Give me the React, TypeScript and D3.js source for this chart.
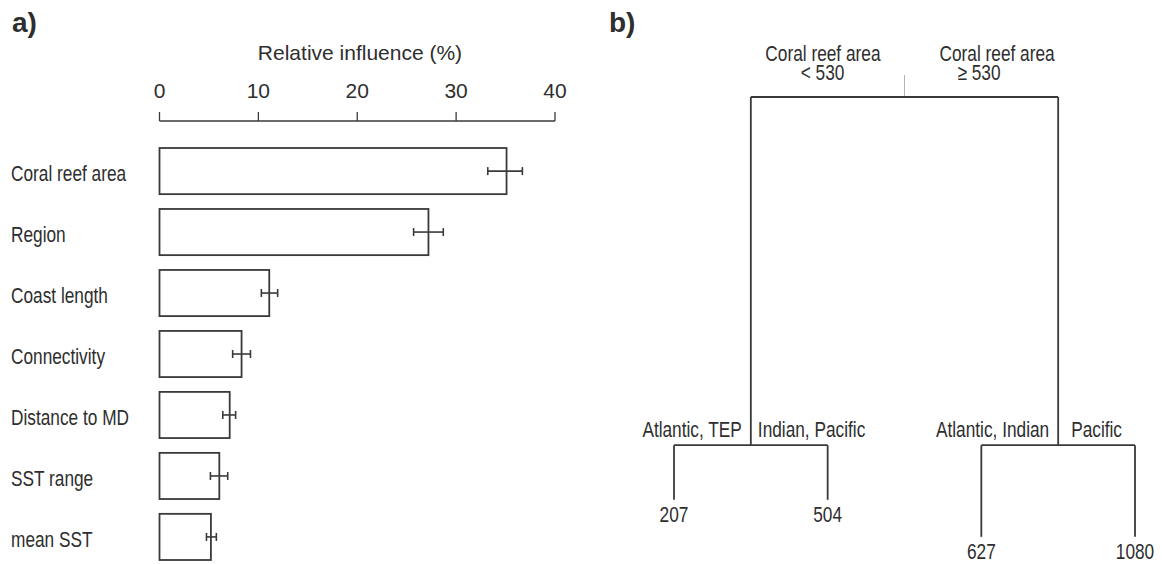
import React from 'react';
import * as d3 from 'd3';

// panel a: relative influence of predictors
const predictors = ['Coral reef area', 'Region', 'Coast length', 'Connectivity', 'Distance to MD', 'SST range', 'mean SST'];
const influence = [35.1, 27.2, 11.1, 8.3, 7.1, 6.05, 5.2];
const errLow = [33.2, 25.7, 10.3, 7.4, 6.4, 5.15, 4.75];
const errHigh = [36.7, 28.7, 11.95, 9.2, 7.7, 6.9, 5.75];
const xTicks = [0, 10, 20, 30, 40];

// panel b: regression tree (node heights ~ deviance, 0..1)
const rootSplit = ['Coral reef area', '< 530', 'Coral reef area', '\u2265 530'];
const innerLeftLabels = ['Atlantic, TEP', 'Atlantic, Indian'];
const innerRightLabels = ['Indian, Pacific', 'Pacific'];
const innerHeights = [0.248, 0.248];
const leafLabels = ['207', '504', '627', '1080'];
const leafHeights = [0.13, 0.13, 0.05, 0.05];
const rootHeight = 1;

const INK = '#3a3a3a';
const TXT = '#2e2e2e';
const SANS = "'Liberation Sans', Arial, sans-serif";
// no narrow face installed -> squeeze the regular one
const SQUEEZE = 0.785;

type TNode = { name: string; h: number; left?: string; right?: string; children?: TNode[] };

const treeData: TNode = {
    name: 'root', h: rootHeight,
    children: [0, 1].map((i) => ({
        name: 'inner' + i,
        h: innerHeights[i],
        left: innerLeftLabels[i],
        right: innerRightLabels[i],
        children: [0, 1].map((j) => ({ name: leafLabels[i * 2 + j], h: leafHeights[i * 2 + j] })),
    })),
};

const NText: React.FC<{ x: number; y: number; anchor?: string; children: React.ReactNode }> = ({ x, y, anchor = 'start', children }) => (
    <text transform={`translate(${x},${y}) scale(${SQUEEZE},1)`} textAnchor={anchor}
          fontFamily={SANS} fontSize={22} fill={TXT}>{children}</text>
);

const BarPanel: React.FC = () => {
    const x = d3.scaleLinear().domain([0, 40]).range([159.5, 555]);
    const y = d3.scaleBand().domain(predictors).range([148, 560]).paddingInner(0.243).paddingOuter(0);
    const axisY = 121;
    return (
        <g>
            <text x={12} y={32} fontFamily={SANS} fontWeight="bold" fontSize={28} fill={TXT}>a)</text>
            <text x={360} y={60} textAnchor="middle" fontFamily={SANS} fontSize={21} fill={TXT}>Relative influence (%)</text>
            <line x1={x(0)} x2={x(40)} y1={axisY} y2={axisY} stroke={INK} strokeWidth={1.3} />
            {xTicks.map((t) => (
                <g key={t}>
                    <line x1={x(t)} x2={x(t)} y1={axisY - 9} y2={axisY} stroke={INK} strokeWidth={1.3} />
                    <text x={x(t)} y={98} textAnchor="middle" fontFamily={SANS} fontSize={21} fill={TXT}>{t}</text>
                </g>
            ))}
            {predictors.map((p, i) => {
                const y0 = y(p)!;
                const cy = y0 + y.bandwidth() / 2;
                return (
                    <g key={p}>
                        <NText x={11} y={cy + 10}>{p}</NText>
                        <rect x={x(0)} y={y0} width={x(influence[i]) - x(0)} height={y.bandwidth()}
                              fill="#fff" stroke={INK} strokeWidth={1.8} />
                        <line x1={x(errLow[i])} x2={x(errHigh[i])} y1={cy} y2={cy} stroke={INK} strokeWidth={1.6} />
                        <line x1={x(errLow[i])} x2={x(errLow[i])} y1={cy - 4} y2={cy + 4} stroke={INK} strokeWidth={1.6} />
                        <line x1={x(errHigh[i])} x2={x(errHigh[i])} y1={cy - 4} y2={cy + 4} stroke={INK} strokeWidth={1.6} />
                    </g>
                );
            })}
        </g>
    );
};

const TreePanel: React.FC = () => {
    const root = d3.hierarchy<TNode>(treeData);
    const leaves = root.leaves();
    const xLeaf = d3.scalePoint<string>().domain(leaves.map((d) => d.data.name)).range([674, 1135]);
    const yH = d3.scaleLinear().domain([0, 1]).range([560, 97]);
    const px = new Map<d3.HierarchyNode<TNode>, number>();
    root.eachAfter((n) => {
        if (!n.children) px.set(n, xLeaf(n.data.name)!);
        else px.set(n, d3.mean(n.children, (c) => px.get(c)!)!);
    });
    const inner = root.descendants().filter((n) => n.children);
    const rx = px.get(root)!;
    const ry = yH(root.data.h);
    return (
        <g>
            <text x={609} y={32} fontFamily={SANS} fontWeight="bold" fontSize={28} fill={TXT}>b)</text>
            <line x1={rx} x2={rx} y1={ry - 22} y2={ry} stroke="#b5b5b5" strokeWidth={1} />
            {inner.map((n, k) => {
                const nx = px.get(n)!;
                const ny = yH(n.data.h);
                const [a, b] = n.children!;
                return (
                    <g key={k}>
                        <line x1={px.get(a)!} x2={px.get(b)!} y1={ny} y2={ny} stroke={INK} strokeWidth={1.8} />
                        {n.children!.map((c, j) => (
                            <line key={j} x1={px.get(c)!} x2={px.get(c)!} y1={ny} y2={yH(c.data.h)} stroke={INK} strokeWidth={1.8} />
                        ))}
                        {n.depth === 1 && (
                            <g>
                                <NText x={nx - 9} y={ny - 8} anchor="end">{n.data.left}</NText>
                                <NText x={nx + (n.data.right === 'Pacific' ? 13 : 7)} y={ny - 8}>{n.data.right}</NText>
                            </g>
                        )}
                    </g>
                );
            })}
            <NText x={rx - 24} y={61} anchor="end">{rootSplit[0]}</NText>
            <NText x={rx - 82} y={80} anchor="middle">{rootSplit[1]}</NText>
            <NText x={rx + 35} y={61}>{rootSplit[2]}</NText>
            <NText x={rx + 53} y={80}>{rootSplit[3]}</NText>
            {leaves.map((l) => (
                <NText key={l.data.name} x={px.get(l)!} y={yH(l.data.h) + 22} anchor="middle">{l.data.name}</NText>
            ))}
        </g>
    );
};

const App: React.FC = () => {
    return (
        <svg width={1162} height={564} style={{ position: 'absolute', left: 0, top: 0, background: '#fff' }}>
            <rect width={1162} height={564} fill="#fff" />
            <BarPanel />
            <TreePanel />
        </svg>
    );
};

export default App;
